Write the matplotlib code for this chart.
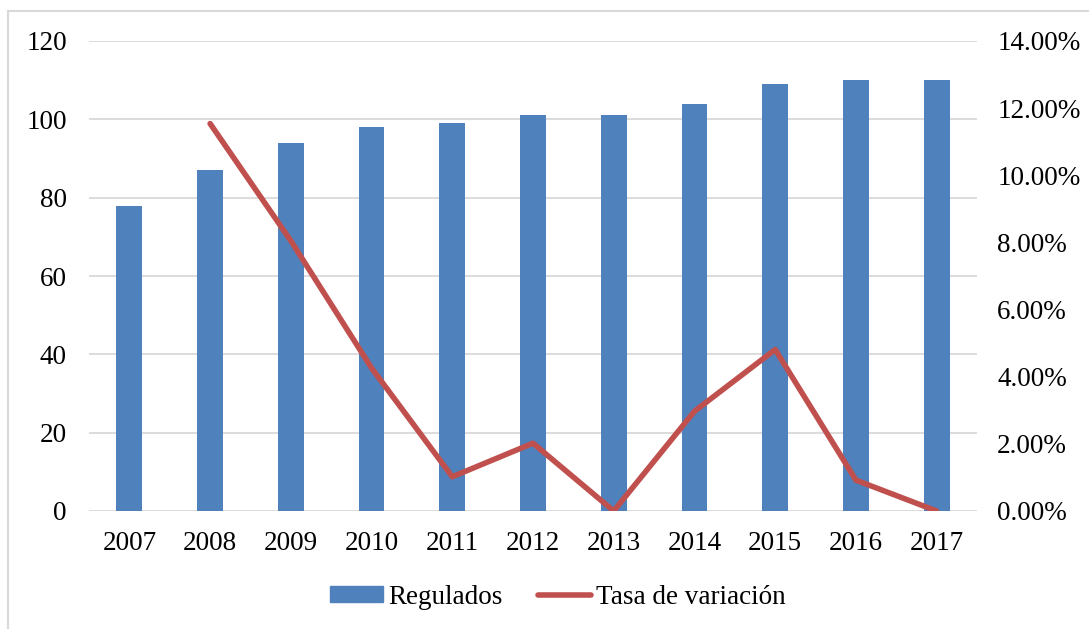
import matplotlib
matplotlib.use("Agg")
import matplotlib.pyplot as plt
from matplotlib.lines import Line2D
from matplotlib.ticker import FuncFormatter

plt.rcParams['font.family'] = ['Liberation Serif', 'DejaVu Serif']

years = ['2007', '2008', '2009', '2010', '2011', '2012', '2013', '2014', '2015', '2016', '2017']
regulados = [78, 87, 94, 98, 99, 101, 101, 104, 109, 110, 110]
tasa_years = ['2008', '2009', '2010', '2011', '2012', '2013', '2014', '2015', '2016', '2017']
tasa = [11.54, 8.05, 4.26, 1.02, 2.02, 0.00, 2.97, 4.81, 0.92, 0.00]

BLUE = '#4F81BD'
RED = '#C0504D'
GRID = '#D9D9D9'
FS = 19.5

fig = plt.figure(figsize=(10.89, 6.29), dpi=100)
W, H = 1089, 629
ax = fig.add_axes([89 / W, 1 - 511 / H, (977 - 89) / W, (511 - 41) / H])
ax2 = ax.twinx()

x = list(range(len(years)))
ax.bar(x, regulados, width=0.32, color=BLUE, zorder=2)
ax.set_xlim(-0.5, len(years) - 0.5)
ax.set_ylim(0, 120)
ax.set_yticks(range(0, 121, 20))
ax.set_xticks(x)
ax.set_xticklabels(years)
ax.yaxis.grid(True, color=GRID, linewidth=1.3, zorder=0)
ax.set_axisbelow(True)
for s in ax.spines.values():
    s.set_visible(False)
for s in ax2.spines.values():
    s.set_visible(False)
ax.tick_params(axis='both', length=0, labelsize=FS, colors='black')
ax.tick_params(axis='y', pad=16)
ax.tick_params(axis='x', pad=14.5)

xt = [years.index(y) for y in tasa_years]
ax2.plot(xt, tasa, color=RED, linewidth=4, solid_capstyle='round', zorder=3)
ax2.set_ylim(0, 14)
ax2.set_yticks(range(0, 15, 2))
ax2.yaxis.set_major_formatter(FuncFormatter(lambda v, p: f"{v:.2f}%"))
ax2.tick_params(axis='y', length=0, labelsize=FS, pad=14.5)

handles = [plt.Rectangle((0, 0), 1, 1, color=BLUE),
           Line2D([0], [0], color=RED, linewidth=4, solid_capstyle='round')]
fig.legend(handles, ['Regulados', 'Tasa de variación'], loc='center',
           bbox_to_anchor=(558 / W, 1 - 597 / H), ncol=2, frameon=False,
           fontsize=FS, handlelength=1.95, handletextpad=0.2, columnspacing=1.3,
           handleheight=0.5)

# outer chart border (left and top visible)
fig.add_artist(Line2D([8 / W, 8 / W], [0, 1 - 11 / H], transform=fig.transFigure,
                      color=GRID, linewidth=1.5))
fig.add_artist(Line2D([8 / W, 1], [1 - 11 / H, 1 - 11 / H], transform=fig.transFigure,
                      color=GRID, linewidth=1.5))

fig.savefig('out.png', dpi=100)
